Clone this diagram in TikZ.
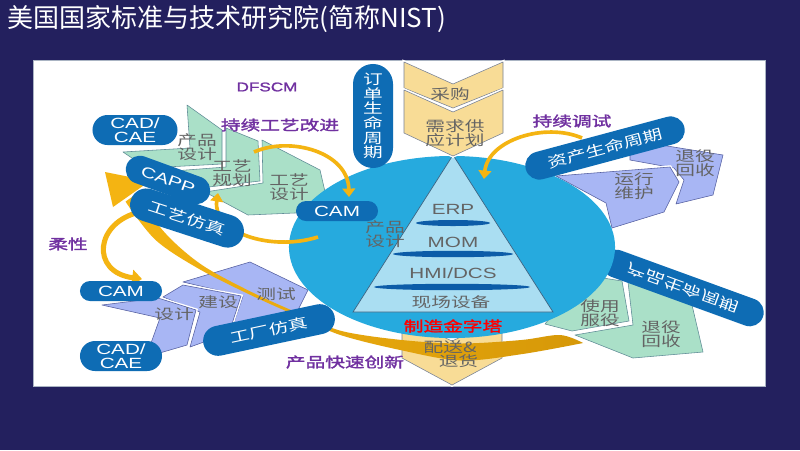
\documentclass[tikz,border=0pt]{standalone}
\usepackage{fontspec}
\usepackage{graphicx}
\usetikzlibrary{shapes.misc,arrows.meta}
\newfontfamily\cjkf[FakeStretch=1.4]{Noto Sans CJK SC}
\newfontfamily\cjkbf[FakeStretch=1.4,FakeBold=2]{Noto Sans CJK SC}
\newfontfamily\titlefont{Noto Sans CJK SC}
\newfontfamily\latf[FakeStretch=1.4]{Liberation Sans}
\newfontfamily\latbf[FakeStretch=1.35,FakeBold=1.5]{Liberation Sans}
\definecolor{navy}{RGB}{35,32,94}
\definecolor{panelline}{RGB}{170,180,195}
\definecolor{circ}{RGB}{38,170,222}
\definecolor{pyrfill}{RGB}{170,222,242}
\definecolor{pyrline}{RGB}{60,100,130}
\definecolor{barblue}{RGB}{12,92,168}
\definecolor{pillblue}{RGB}{14,108,180}
\definecolor{sgreen}{RGB}{170,224,200}
\definecolor{gline}{RGB}{95,140,150}
\definecolor{spurple}{RGB}{168,182,244}
\definecolor{pline}{RGB}{85,95,160}
\definecolor{wheat}{RGB}{248,220,150}
\definecolor{wline}{RGB}{120,130,150}
\definecolor{agold}{RGB}{244,180,18}
\definecolor{bgold}{RGB}{214,152,8}
\definecolor{tgray}{RGB}{100,100,100}
\definecolor{lpurple}{RGB}{112,48,160}
\begin{document}
\begin{tikzpicture}[x=0.025cm,y=-0.025cm,
  pill/.style={rounded rectangle, fill=pillblue, text=white, inner sep=0pt, align=center,
    font=\latf\fontsize{10.5}{9.6}\selectfont},
  cpill/.style={pill, font=\cjkf\fontsize{10}{10.4}\selectfont},
  lbl/.style={text=tgray, font=\cjkf\fontsize{10}{9.6}\selectfont, align=center, inner sep=0pt},
  plbl/.style={text=lpurple, font=\cjkbf\fontsize{10}{12}\selectfont, inner sep=0pt},
  pyrtxt/.style={text=tgray, font=\latf\fontsize{10.5}{12}\selectfont, inner sep=0pt},
  gsh/.style={fill=sgreen, draw=gline, line width=0.4pt, line join=round,
    preaction={draw=white, line width=2.4pt}},
  psh/.style={gsh, fill=spurple, draw=pline},
  wsh/.style={gsh, fill=wheat, draw=wline},
  garrow/.style={draw=agold, line width=2.6pt, -{Triangle[length=6pt,width=9pt]}}]
\fill[navy] (0,0) rectangle (800,450);
\useasboundingbox (0,0) rectangle (800,450);
\node[anchor=west, text=white, inner sep=0pt, font=\titlefont\fontsize{18.5}{20}\selectfont] (title) at (7,19) {美国国家标准与技术研究院(简称NIST)};
\path[fill=white, draw=panelline, line width=0.6pt] (33,60) rectangle (765,386);

% green chevrons, top left
\path[gsh] (262,140) -- (320,170) -- (326,196) -- (318,212) -- (248,215) -- (205,192) -- (263,183) -- cycle;
\path[gsh] (226,128) -- (258,141) -- (260,181) -- (200,188) -- (160,172) -- (226,167) -- cycle;
\path[gsh] (187,105) -- (222,130) -- (222,164) -- (147,168) -- (123,152) -- (190,148) -- cycle;

% purple chevrons, bottom left
\path[psh] (183,282) -- (250,262) -- (308,290) -- (297,312) -- (230,334) -- (243,296) -- cycle;
\path[psh] (163,297) -- (183,285) -- (241,296) -- (229,333) -- (190,347) -- (200,312) -- cycle;
\path[psh] (102,305) -- (158,298) -- (196,310) -- (187,345) -- (146,357) -- (160,318) -- cycle;

% purple shapes, upper right
\path[psh] (630,140) -- (723,155) -- (713,195) -- (676,204) -- (684,180) -- (674,168) -- (630,160) -- cycle;
\path[psh] (556,176) -- (670,167) -- (679,182) -- (664,212) -- (612,228) -- (606,203) -- cycle;

% green shapes, bottom right
\path[gsh] (628,282) -- (692,305) -- (703,352) -- (633,358) -- (575,335) -- (633,325) -- cycle;
\path[gsh] (540,268) -- (622,281) -- (629,321) -- (572,331) -- (545,324) -- (565,300) -- cycle;

\node[cpill, minimum width=4.25cm, minimum height=0.7cm, rotate=-20] (plc) at (683,288) {\scalebox{1}[-1]{产品生命周期}};

% bottom chevron
\path[wsh] (402,318) -- (452,341) -- (502,318) -- (502,358) -- (452,385) -- (402,358) -- cycle;

% big gold band (tapered)
\shade[left color=agold, right color=bgold]
  plot[smooth, tension=0.55] coordinates {(138.5,192.4) (162.7,230.3) (200.4,263.9) (250.7,291.6) (301.6,314.6) (341.6,331) (401.8,340) (461,343.5) (521.4,340) (560,335) (583,343)}
  -- plot[smooth, tension=0.55] coordinates {(583,343) (522.6,354) (461,360.5) (400.2,350) (340.4,335) (300.4,317.4) (249.3,294.4) (197.6,268.1) (155.3,239.7) (125.5,201.6)} -- cycle;
\fill[agold] (105,172) -- (150,181) -- (113,207) -- cycle;

% flexibility arrow
\coordinate (flexA) at (140,212);
\coordinate (flexB) at (142,279);
\draw[draw=agold, line width=3.6pt, -{Triangle[length=7pt,width=11pt]}] (flexA) .. controls (95,222) and (90,272) .. (flexB);

% circle and pyramid
\fill[circ] (452,247) ellipse [x radius=4.075cm, y radius=2.275cm];
\path[fill=pyrfill, draw=pyrline, line width=0.5pt] (453,155) -- (553,312) -- (353,312) -- cycle;
\fill[barblue] (453,223) ellipse [x radius=0.925cm, y radius=0.075cm];
\fill[barblue] (453,254) ellipse [x radius=1.5cm, y radius=0.08cm];
\fill[barblue] (452,287) ellipse [x radius=1.95cm, y radius=0.08cm];
\node[pyrtxt] (erp) at (453,209) {ERP};
\node[pyrtxt] (mom) at (453,242) {MOM};
\node[pyrtxt] (hmi) at (453,273) {HMI/DCS};
\node[lbl] (field) at (451,302) {现场设备};
\node[lbl] (pdc) at (385,234) {产品\\设计};
\node[text=red, font=\cjkbf\fontsize{10}{12}\selectfont, inner sep=0pt] (pyrname) at (453,326) {制造金字塔};

% top chevrons
\path[wsh] (404,62) -- (453,84) -- (503,62) -- (503,88) -- (453,108) -- (404,88) -- cycle;
\path[wsh] (404,90) -- (453,112) -- (503,90) -- (503,133) -- (453,156) -- (404,133) -- cycle;
\node[lbl] (buy) at (450,94) {采购};
\node[lbl] (dsp) at (455,133) {需求供\\应计划};
\node[lbl] (dlv) at (450,354) {配送\&\\\hspace*{1.2em}退货};

% order life cycle pill
\node[fill=pillblue, rounded corners=0.5cm, minimum width=1cm, minimum height=2.6cm, inner sep=0pt,
  text=white, align=center, font=\cjkf\fontsize{10}{10.4}\selectfont] (order) at (373,116) {订\\单\\生\\命\\周\\期};

% continuous commissioning arrow
\coordinate (ccA) at (582,138);
\coordinate (ccB) at (484,179);
\draw[garrow] (ccA) .. controls (545,122) and (488,140) .. (ccB);
\node[cpill, minimum width=4.1cm, minimum height=0.7cm, rotate=15] (alc) at (605,148) {资产生命周期};

% CAM pill on circle
\node[pill, minimum width=2.05cm, minimum height=0.5cm] (camtop) at (337,211) {CAM};
\coordinate (cpiA) at (254,152);
\coordinate (cpiB) at (349,197);
\draw[garrow] (cpiA) .. controls (290,136) and (348,152) .. (cpiB);
\coordinate (simA) at (318,237);
\coordinate (simB) at (218,193);
\draw[garrow] (simA) .. controls (270,252) and (212,232) .. (simB);

% left pills
\node[pill, minimum width=2.125cm, minimum height=0.75cm] (cadtop) at (135,130) {CAD/\\CAE};
\node[pill, minimum width=2.2cm, minimum height=0.7cm, rotate=-20] (capp) at (168,180) {CAPP};
\node[cpill, minimum width=2.95cm, minimum height=0.82cm, rotate=-18] (psim) at (187,218) {工艺仿真};
\node[pill, minimum width=2.05cm, minimum height=0.5cm] (cambot) at (121,291) {CAM};
\node[pill, minimum width=2.05cm, minimum height=0.75cm] (cadbot) at (121,356) {CAD/\\CAE};
\node[cpill, minimum width=3.35cm, minimum height=0.75cm, rotate=12] (fsim) at (269,330) {工厂仿真};

% shape labels
\node[lbl] (pd) at (197,147) {产品\\设计};
\node[lbl] (pp) at (232,173) {工艺\\规划};
\node[lbl] (pdes) at (289,187) {工艺\\设计};
\node[lbl] (ds) at (174,314) {设计};
\node[lbl] (bd) at (218,302) {建设};
\node[lbl] (ts) at (276,294) {测试};
\node[lbl] (om) at (634,186) {运行\\维护};
\node[lbl] (rr1) at (695,163) {退役\\回收};
\node[lbl] (us) at (600,313) {使用\\服役};
\node[lbl] (rr2) at (661,334) {退役\\回收};

% purple captions
\node[text=lpurple, font=\latbf\fontsize{9}{10}\selectfont, inner sep=0pt] (dfscm) at (267,87) {DFSCM};
\node[plbl] (cpi) at (280,125) {持续工艺改进};
\node[plbl] (cct) at (572,121) {持续调试};
\node[plbl] (flex) at (68,244) {柔性};
\node[plbl] (rpi) at (345,362) {产品快速创新};
\end{tikzpicture}
\end{document}
